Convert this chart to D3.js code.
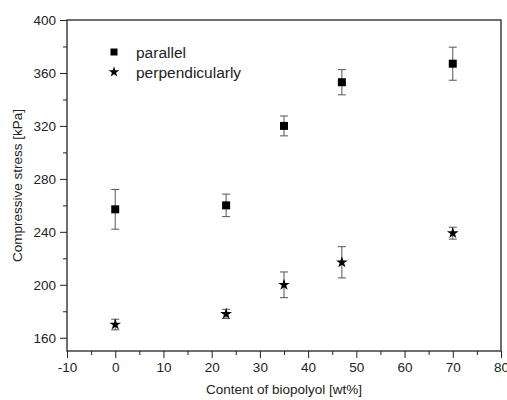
<!DOCTYPE html>
<html lang="en">
<head>
<meta charset="UTF-8">
<title>Compressive stress vs biopolyol content</title>
<style>
  body { margin: 0; background: #fff; }
  text { font-family: "Liberation Sans", Arial, sans-serif; fill: #222; }
  .axis path, .axis line { stroke: #222; }
  .err { stroke: #555; stroke-width: 1; }
</style>
</head>
<body>
<svg></svg>
<script src="https://d3js.org/d3.v7.min.js"></script>
<script>
// biopolyol content [wt%]
const content = [0, 23, 35, 47, 70];
// parallel direction
const parallelMean = [257, 260, 320, 353, 367];
const parallelErr = [15, 8.5, 7.5, 9.5, 12.5];
// perpendicular direction
const perpMean = [170, 178, 200, 217, 239];
const perpErr = [4, 3.5, 9.7, 11.8, 4.5];

const xTicks = [-10, 0, 10, 20, 30, 40, 50, 60, 70, 80];
const yTicks = [160, 200, 240, 280, 320, 360, 400];

const width = 507, height = 400;
const margin = {top: 20, right: 6, bottom: 49, left: 67};

const svg = d3.select("svg").attr("width", width).attr("height", height);

const x = d3.scaleLinear().domain([-10, 80]).range([margin.left, width - margin.right]);
const y = d3.scaleLinear().domain([150, 400]).range([height - margin.bottom, margin.top]);

// frame
svg.append("rect")
    .attr("x", x(-10)).attr("y", y(400))
    .attr("width", x(80) - x(-10)).attr("height", y(150) - y(400))
    .attr("fill", "none").attr("stroke", "#222").attr("stroke-width", 1.3);

// minor ticks
svg.append("g").attr("class", "axis")
    .attr("transform", `translate(0,${y(150)})`)
    .call(d3.axisBottom(x).tickValues(d3.range(-5, 80, 10)).tickSize(4).tickFormat(""))
    .call(g => g.select(".domain").remove());
svg.append("g").attr("class", "axis")
    .attr("transform", `translate(${x(-10)},0)`)
    .call(d3.axisLeft(y).tickValues(d3.range(180, 400, 40)).tickSize(4).tickFormat(""))
    .call(g => g.select(".domain").remove());

// major ticks
const xAxis = svg.append("g").attr("class", "axis")
    .attr("transform", `translate(0,${y(150)})`)
    .call(d3.axisBottom(x).tickValues(xTicks).tickSize(7).tickPadding(4).tickFormat(d => String(d)))
    .call(g => g.select(".domain").remove());
xAxis.selectAll("text").style("font-size", "13.5px");

const yAxis = svg.append("g").attr("class", "axis")
    .attr("transform", `translate(${x(-10)},0)`)
    .call(d3.axisLeft(y).tickValues(yTicks).tickSize(7).tickPadding(4).tickFormat(d => String(d)))
    .call(g => g.select(".domain").remove());
yAxis.selectAll("text").style("font-size", "13.5px");

// axis titles
svg.append("text")
    .attr("x", (x(-10) + x(80)) / 2).attr("y", 394)
    .attr("text-anchor", "middle").style("font-size", "13.5px")
    .text("Content of biopolyol [wt%]");
svg.append("text")
    .attr("transform", `translate(22,${(y(150) + y(400)) / 2}) rotate(-90)`)
    .attr("text-anchor", "middle").style("font-size", "13.5px")
    .text("Compressive stress [kPa]");

function errorBars(means, errs) {
    const g = svg.append("g");
    content.forEach((c, i) => {
        const cx = x(c), top = y(means[i] + errs[i]), bot = y(means[i] - errs[i]);
        g.append("line").attr("class", "err").attr("x1", cx).attr("x2", cx).attr("y1", top).attr("y2", bot);
        g.append("line").attr("class", "err").attr("x1", cx - 4).attr("x2", cx + 4).attr("y1", top).attr("y2", top);
        g.append("line").attr("class", "err").attr("x1", cx - 4).attr("x2", cx + 4).attr("y1", bot).attr("y2", bot);
    });
}
errorBars(parallelMean, parallelErr);
errorBars(perpMean, perpErr);

const square = d3.symbol().type(d3.symbolSquare).size(64);
const star = d3.symbol().type(d3.symbolStar).size(42);

svg.append("g").selectAll("path")
    .data(content)
    .join("path")
    .attr("d", square)
    .attr("transform", (d, i) => `translate(${x(d)},${y(parallelMean[i])})`)
    .attr("fill", "#000");

svg.append("g").selectAll("path")
    .data(content)
    .join("path")
    .attr("d", star)
    .attr("transform", (d, i) => `translate(${x(d)},${y(perpMean[i])})`)
    .attr("fill", "#000");

// legend
const legend = svg.append("g").attr("transform", "translate(114,52)");
legend.append("path").attr("d", d3.symbol().type(d3.symbolSquare).size(49)).attr("fill", "#000");
legend.append("text").attr("x", 22).attr("y", 5.5).style("font-size", "15.5px").text("parallel");
legend.append("path").attr("d", d3.symbol().type(d3.symbolStar).size(36))
    .attr("transform", "translate(0,20)").attr("fill", "#000");
legend.append("text").attr("x", 22).attr("y", 25.5).style("font-size", "15.5px").text("perpendicularly");
</script>
</body>
</html>
